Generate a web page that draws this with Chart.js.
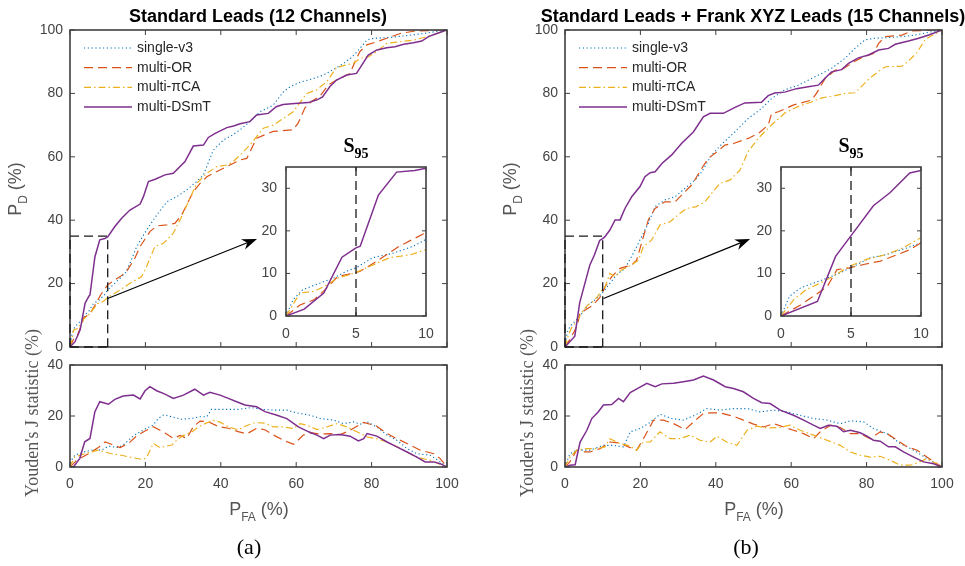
<!DOCTYPE html>
<html>
<head>
<meta charset="utf-8">
<script src="https://cdn.jsdelivr.net/npm/chart.js@4.4.1/dist/chart.umd.min.js"></script>
<style>
  html, body { margin: 0; padding: 0; background: #fff; }
  #fig { position: relative; width: 965px; height: 566px; overflow: hidden; font-family: "Liberation Sans", Arial, sans-serif; }
  #fig canvas { position: absolute; left: 0; top: 0; }
  .lbl { position: absolute; white-space: nowrap; transform: translate(-50%, -50%); }
  .ttl { font-weight: bold; font-size: 18px; color: #000; }
  .ax { font-size: 18px; color: #555; }
  .ax sub { font-size: 12px; vertical-align: -6px; }
  .rot { transform: translate(-50%, -50%) rotate(-90deg); }
  .serif { font-family: "Liberation Serif", "Times New Roman", serif; }
  .yj { font-size: 18px; color: #555; }
  .cap { font-size: 22px; color: #000; }
  .s95 { font-weight: bold; font-size: 20px; color: #000; }
  .s95 sub { font-size: 14px; vertical-align: -6px; }
</style>
</head>
<body>
<div id="fig">
  <canvas id="rocA" width="965" height="566"></canvas>
  <canvas id="insA" width="965" height="566"></canvas>
  <canvas id="jA" width="965" height="566"></canvas>
  <canvas id="rocB" width="965" height="566"></canvas>
  <canvas id="insB" width="965" height="566"></canvas>
  <canvas id="jB" width="965" height="566"></canvas>

  <div class="lbl ttl" style="left:258px;top:16px">Standard Leads (12 Channels)</div>
  <div class="lbl ttl" style="left:753px;top:16px">Standard Leads + Frank XYZ Leads (15 Channels)</div>
  <div class="lbl ax rot" style="left:17px;top:189px">P<sub>D</sub> (%)</div>
  <div class="lbl ax rot" style="left:512px;top:189px">P<sub>D</sub> (%)</div>
  <div class="lbl serif yj rot" style="left:32px;top:413px">Youden's J statistic (%)</div>
  <div class="lbl serif yj rot" style="left:527px;top:413px">Youden's J statistic (%)</div>
  <div class="lbl ax" style="left:259px;top:511px">P<sub>FA</sub> (%)</div>
  <div class="lbl ax" style="left:754px;top:511px">P<sub>FA</sub> (%)</div>
  <div class="lbl serif cap" style="left:249px;top:547px">(a)</div>
  <div class="lbl serif cap" style="left:746px;top:547px">(b)</div>
  <div class="lbl serif s95" style="left:356px;top:148px">S<sub>95</sub></div>
  <div class="lbl serif s95" style="left:851px;top:148px">S<sub>95</sub></div>
</div>

<script>
const W = 965, H = 566;

const seriesNames = ['single-v3', 'multi-OR', 'multi-\u03c0CA', 'multi-DSmT'];
const rocTicks = [0, 20, 40, 60, 80, 100];
const jTicksY = [0, 20, 40];
const insetTicksX = [0, 5, 10];
const insetTicksY = [0, 10, 20, 30];

// (a) ROC, [P_FA, P_D]
const rocA_v3 = [[0,0],[0.5,3.8],[1.2,6.2],[2.4,7.7],[3.4,8.9],[4.3,10.5],[5,11.3],[6.2,13.7],[7.7,14.8],[9.1,16.4],[10,18],[11.9,20.1],[14.6,23.2],[15.9,26.4],[17.7,31.7],[20.3,36.9],[23,41.6],[25.7,45.8],[28.3,47.4],[30.9,49.5],[33.6,52.2],[35.4,54.3],[38,62.1],[40.7,65.3],[43,66.8],[45.1,68.5],[47.7,71.1],[50.4,74.2],[53.9,76.3],[56.6,80.5],[58.4,82.1],[61,83.5],[64.6,84.7],[67.3,85.8],[70.4,87.9],[72.6,89.5],[74.4,91.1],[76.2,93.2],[78.8,96.9],[80.6,97.4],[84.1,97.6],[86.8,97.9],[90.4,98.4],[93.9,98.9],[97.5,99.6],[100,100]];
const rocA_or = [[0,0],[1,2.6],[2,3.8],[2.8,6.2],[3.7,9.3],[4.9,10.1],[5.3,10.5],[6.5,12.9],[8.1,16.4],[10,19.6],[10.6,20.1],[13.3,22.2],[15,23.8],[17.2,28],[18.6,31.7],[21.2,36.4],[23,38.2],[25.7,38.5],[27.8,39],[29.6,41.6],[32.7,49],[34.5,51.6],[36.3,53.7],[38,54.8],[40.7,56.4],[42.4,57.4],[45.1,59],[46.9,59.5],[48.2,62.7],[49.5,65.9],[53.9,68],[59.2,68.5],[60.5,70.6],[62.3,75.4],[64.1,77.5],[66.3,79.1],[68.5,82.7],[70.7,84.2],[74.3,86.3],[75.6,90],[76.9,93.2],[78.7,95.3],[81.4,96.3],[84,97.4],[87.6,98.9],[91.1,99.6],[98.2,100],[100,100]];
const rocA_pca = [[0,0],[1,5.4],[2,5.8],[2.7,6.9],[3.7,8.9],[4.9,10.1],[6,11.7],[7.4,13.7],[8.9,14.4],[10,15.6],[13.3,18],[15.9,20.1],[19,22.2],[20.3,25.3],[22.5,31.7],[24.8,32.7],[27.4,35.9],[29.2,40.1],[31.4,45.8],[33.6,51.6],[36.3,54.8],[38.9,56.9],[41.6,57.4],[43,58.2],[45.1,60.5],[47.7,63.7],[49.5,66.4],[51.3,69],[53.9,70],[56.6,72.1],[59.2,74.2],[62.8,80],[65.4,81.1],[68.1,83.7],[70.7,88.2],[73.4,89],[75.2,89.5],[77,91.1],[79.2,91.6],[81.4,93.2],[84,95.8],[87.6,96.3],[91.1,96.8],[94.7,97.9],[97.3,98.9],[100,100]];
const rocA_dsmt = [[0,0],[1.3,1.6],[2.7,5.4],[4,13.8],[5,16],[5.3,16.4],[6.6,28.4],[7.9,33.8],[9.2,34.2],[10,34.7],[11.9,38],[13.7,40.6],[15.9,43.2],[18.6,45.1],[19.5,47.5],[20.8,52.2],[22.6,52.9],[25.2,54.3],[27.4,54.8],[30.5,58.5],[32.7,63.4],[35.4,63.7],[36.7,66.1],[38.5,67.4],[41.6,69.2],[43.4,69.7],[45.1,70.4],[47.7,71.1],[49.5,73.2],[52.6,73.7],[54.7,75.8],[56.5,76.5],[59.6,76.8],[63.2,77.1],[65.4,77.9],[67,78.9],[68.9,82.1],[70.7,84.2],[73.4,85.8],[76,86.3],[77.4,88.9],[79.1,92.1],[81.4,93.7],[84,94.4],[86.2,94.7],[88.5,95.5],[91.1,96],[93.3,96.5],[95.1,97.9],[97.3,98.9],[100,100]];

// (b) ROC
const rocB_v3 = [[0,0],[0.6,4.6],[1.4,6.6],[2.3,7.7],[3.3,8.9],[4.2,10.1],[5.2,11.7],[6.4,13.7],[7.5,14.4],[9,16],[10,17.2],[11.9,20.1],[14.1,23.2],[15.9,24.8],[18.6,30.6],[20.3,34.8],[22.1,39],[23.9,44.3],[26.5,46.4],[29.2,47.4],[31.8,50],[34.5,52.7],[36.3,55.3],[38.9,60.6],[41.6,64],[45.1,67.9],[48.6,72.1],[52.1,75.2],[54.8,78.4],[58.3,81.1],[61.9,82.6],[65.4,84.7],[68.1,86.3],[70.7,87.9],[74.3,91.1],[76.9,94.2],[79.6,96.9],[82.3,97.4],[85.8,97.6],[89.4,97.9],[92.9,98.4],[96.5,99.3],[100,100]];
const rocB_or = [[0,0],[1.4,2.6],[2.3,4.6],[3.3,6.9],[4,10.9],[4.9,11.3],[5.9,12.1],[7.1,12.9],[8.3,14.4],[9.2,15.6],[10,17.2],[10.6,19],[12.4,22.2],[14.6,24.8],[17.7,25.9],[19,27.4],[20.8,34.8],[22.1,40.1],[23.9,43.7],[26.5,45.8],[29.2,45.8],[31.4,48.5],[33.6,51.1],[36.3,56.4],[38,59.5],[39.8,61.1],[42.4,63.7],[44.7,64.2],[48.6,65.8],[51.3,67.4],[53.9,70],[54.8,73.7],[56.6,74.2],[60.5,76.3],[65.4,77.9],[66.7,80],[68.9,84.5],[71.6,87.3],[73.8,87.8],[76.5,89.9],[79.1,91.5],[81.8,92.6],[83.2,95.8],[84.9,97.9],[89.4,98.4],[92,99.7],[98.2,100],[100,100]];
const rocB_pca = [[0,0],[0.9,3.8],[1.8,6.2],[2.8,7.7],[3.7,9.3],[4.9,11.7],[6.1,13.3],[7.5,14.4],[8.7,16],[10,18.4],[10.6,18.8],[11.9,23.2],[13.3,22.2],[15,24.3],[17.7,25.9],[19.5,27.4],[20.8,31.7],[23,33.8],[25.2,38.5],[27.9,39.5],[30.5,42.2],[32.3,43.7],[34.9,44.3],[37.1,45.8],[38.9,48.5],[41.1,51.6],[43.8,52.7],[46.4,55.8],[48.6,61.7],[51.3,65.9],[54.8,70.1],[58.3,73.8],[61.9,75.9],[65.4,77.3],[68.1,78.6],[71.6,79.3],[74.3,80],[76.9,80.2],[78.3,81.8],[80.5,84.4],[83.2,87],[85,88.4],[89.4,88.6],[91.1,90.2],[93.3,92.8],[95.6,97.1],[100,100]];
const rocB_dsmt = [[0,0],[2.6,3.4],[3.9,14],[4.9,18.4],[6.6,25.9],[7.8,29],[9.2,33.6],[10,34.2],[10.6,34.8],[11.9,36.9],[13.3,40.1],[14.6,40.1],[15.9,43.7],[17.7,47.4],[19.9,50.6],[21.2,53.7],[22.6,55],[23.9,55.3],[25.7,57.9],[28.3,60.6],[30.9,64.2],[34.1,67.9],[36.7,72.6],[38.5,73.7],[42,73.7],[45.1,75.6],[47.7,77],[52.1,77.2],[53.9,79.3],[55.6,80.1],[58.3,80.4],[61.4,81.5],[64.1,82],[67.2,82.6],[68.9,84.7],[70.7,86.8],[73.4,87.5],[75.2,89.5],[77.8,91.2],[80.5,92.1],[83.2,93.7],[85.8,94.2],[87.6,95.5],[91.1,96.5],[93.8,97.4],[96.5,98.4],[100,100]];

// (a) Youden's J, [P_FA, J]
const jA_v3 = [[0,0],[0.4,2.7],[1.3,4.7],[3.9,6],[6.6,6.9],[8.4,6.6],[10.2,8.2],[12.8,7.6],[14.6,9.2],[16.8,12.2],[19.9,14.9],[22.1,16.5],[23.4,19],[24.8,20.4],[27,19.7],[29.6,18.7],[32.3,19.1],[34.5,19.7],[36.3,19.7],[37.5,22.6],[41.1,22.6],[44.6,22.6],[48.2,23.3],[50.8,22.6],[54,22.3],[57.5,22.3],[60.2,21.2],[63.7,20.3],[66.4,19],[69.9,18.4],[72.6,17],[75.2,17.7],[77,16.8],[78.8,17.7],[81.4,15.7],[84.1,12.5],[86.7,10.5],[89.4,7.2],[92,5.2],[95.6,4.6],[98.2,2],[100,0]];
const jA_or = [[0,0],[1.8,2.7],[4.9,5.2],[7.5,7.6],[9.3,9.8],[11,8.9],[13.3,7.6],[15.5,9.2],[17.7,12.2],[19.9,14.1],[22.1,15.8],[25.2,13.3],[27.4,11.2],[29.2,12.4],[31,11.2],[32.7,15.8],[34.5,18],[36.8,17.7],[39.4,15.8],[42,15.2],[44.6,13.9],[46.9,13],[49.5,15.2],[51.7,14.6],[54,12.5],[56.6,10.5],[59.3,8.9],[61.9,12.5],[64.2,13.4],[66.4,12.9],[69,13.1],[71.7,12.7],[74.3,14.4],[77.9,17.5],[81.4,16],[84.1,13.1],[86.7,11.1],[89.4,9.2],[92.9,6.6],[96.5,5.2],[98.2,3.3],[100,0]];
const jA_pca = [[0,0],[0.4,1.4],[1.3,4],[3.9,5.2],[7.5,6.6],[11,5.2],[13.7,4.6],[16.4,3.7],[19.4,2.9],[20.4,4],[22.1,9.2],[23.9,7.6],[25.6,8.2],[27,8.6],[28.3,10.5],[30.1,12.4],[32.3,13.7],[34.1,15.7],[35.8,17],[38,18.3],[39.8,17.6],[42,15.7],[44.6,14.6],[46.9,16.3],[49.1,17.4],[51.7,17.2],[54,15.7],[56.6,15.7],[59.3,15.1],[61,17],[62.8,16.4],[65.5,14.7],[68.1,15.7],[70.8,17],[73.5,15.7],[76.1,13.8],[78.8,11.8],[81.4,11.1],[84.1,9.8],[86.7,7.9],[89.4,5.9],[92,3.9],[95.6,2.6],[100,0]];
const jA_dsmt = [[0,0],[0.9,0],[2.6,3.4],[3.9,9.9],[5.3,11.2],[6.6,21.7],[7.9,25.6],[10.2,24.6],[11.9,26.5],[14.1,27.8],[16.8,28.2],[18.6,26.7],[19.9,29.9],[21.2,31.5],[23,29.9],[25.2,28.6],[27.4,26.9],[30.1,28.2],[33.1,30.5],[35.4,28.2],[37.1,29.3],[39.8,28.2],[42,26.9],[44.2,25.6],[46.4,24.3],[49.5,23.6],[51.7,21.7],[54.9,20.3],[57.5,19],[60.6,15.7],[63.3,13.8],[65.5,12.5],[67.3,11.1],[69,12.5],[71.7,12.7],[74.3,12.1],[76.5,10.2],[77.9,11.1],[78.8,13.1],[81.4,12.1],[84.1,9.8],[86.7,7.9],[89.4,5.9],[92,3.9],[94.2,2],[96.5,2],[98.2,1.3],[100,0]];

// (b) Youden's J
const jB_v3 = [[0,0],[1.3,5.2],[3.1,6.6],[6.6,6.6],[10.2,8.5],[12.8,8.5],[15.5,7.9],[17.3,13.8],[19.9,15.1],[22.1,17],[25.2,20.7],[28.3,19],[31.4,18.4],[34.5,20.3],[37.6,22.9],[41.2,22.3],[44.7,22.9],[48.3,22.9],[51.8,21.6],[55.3,22.3],[58.8,21.6],[62.4,20.3],[65.9,19],[69.5,18.4],[73,17],[75.7,18.1],[79.2,17.7],[81.8,15.1],[85.4,13.1],[88.9,9.2],[92.5,6.6],[96,3.3],[100,0]];
const jB_or = [[0,0],[1.3,2],[3.1,6.6],[4.9,5.9],[6.6,5.9],[9.3,7.2],[11.9,9.8],[14.6,9.4],[16.8,7.9],[19,6.6],[20.8,11.1],[23.5,18.4],[26.1,18.4],[28.8,17],[31.9,14.7],[34.1,17.7],[36.7,21],[38.5,21.2],[41.2,21.2],[44.7,19.9],[47.3,18.4],[50,16.8],[52.7,15.7],[55.3,17],[58,15.7],[60.6,14.4],[63.3,13.1],[65.9,11.1],[67.7,13.8],[70.4,16.4],[73,15.5],[75.7,13.1],[78.3,13.1],[81,11.1],[83.6,13.8],[85.4,13.1],[88.1,10.5],[90.7,7.9],[93.4,6.6],[96,3.9],[100,0]];
const jB_pca = [[0,0],[1.3,3.9],[3.1,6.6],[5.8,7.2],[8.4,7.2],[10.6,7.9],[11.9,11.1],[14.6,9.2],[16.8,8.5],[19,6.6],[20.8,9.8],[22.6,9.8],[25.2,13.8],[27.9,11.1],[30.5,11.1],[33.2,12.5],[35.8,10.5],[38.5,9.8],[40.3,12.1],[42.9,9.8],[45.6,8.5],[48.3,14.4],[50.9,16],[53.5,15.3],[57.1,15.5],[59.7,16.4],[62.4,14.4],[65.9,12.5],[69.5,10.5],[73,8.5],[75.7,5.9],[78.3,4.6],[81,3.9],[83.6,4.2],[86.3,2.6],[88.9,0.7],[91.6,0.7],[93.4,1.6],[96,3.3],[100,0]];
const jB_dsmt = [[0,0],[1.3,0.7],[2.7,0.9],[4,9.8],[5.8,14.4],[7.1,19],[8.8,21.6],[10.2,24.3],[12.4,24.5],[14.2,26.9],[15.5,25.6],[17.3,29.2],[19.9,31.3],[21.7,32.8],[23.9,31.5],[25.7,32.6],[28.8,32.8],[31.4,33.4],[34.1,34.1],[36.7,35.7],[39.4,34.1],[42.5,31.5],[44.7,30.8],[47.3,29.5],[50,26.9],[52.2,25.2],[54.4,24.9],[57.1,22.3],[60.6,20.3],[63.3,18.4],[65.9,16.4],[67.7,15.1],[69.9,16.4],[72.1,16],[73.9,13.8],[75.7,14.4],[78.3,13.4],[80.1,12.1],[81.8,10.5],[83.6,10.1],[85.8,7.9],[87.6,7.9],[89.8,5.9],[92.5,3.9],[95.1,2],[97.8,1.3],[100,0]];

// zoom window shown in the insets, and the arrows pointing to them (data units of the ROC axes)
const zoomBox = [0, 10, 0, 35];
const arrowA = [[10, 15.3], [49.6, 34.1]];
const arrowB = [[10.2, 15.3], [49.1, 34.1]];
const s95 = 5;

// ---- layout / style ----
const AREA = {
  rocA: { l: 70, t: 30, r: 447, b: 347 },
  insA: { l: 286, t: 167, r: 426, b: 316 },
  jA:   { l: 70, t: 365, r: 447, b: 467 },
  rocB: { l: 565, t: 30, r: 942, b: 347 },
  insB: { l: 781, t: 167, r: 921, b: 316 },
  jB:   { l: 565, t: 365, r: 942, b: 467 }
};
const YAXIS_W = 50, XAXIS_H = 30;
const STYLE = [
  { color: '#0072BD', width: 1.1, dash: [1.2, 2.6] },
  { color: '#D95319', width: 1.2, dash: [9, 5] },
  { color: '#EDB120', width: 1.2, dash: [7, 3, 1.5, 3] },
  { color: '#7E2F8E', width: 1.5, dash: [] }
];
const AXIS_COLOR = '#404040';
const TICK_COLOR = '#444';
const tickFont = { family: 'Liberation Sans', size: 14 };

function lineSets(list) {
  return list.map((pts, i) => ({
    label: seriesNames[i],
    data: pts.map(p => ({ x: p[0], y: p[1] })),
    borderColor: STYLE[i].color,
    borderWidth: STYLE[i].width,
    borderDash: STYLE[i].dash,
    borderCapStyle: 'butt',
    pointRadius: 0,
    fill: false,
    tension: 0,
    order: 3 - i
  }));
}

function framePlugin(len) {
  return {
    id: 'frame',
    beforeDatasetsDraw(chart) {
      const a = chart.chartArea, ctx = chart.ctx;
      ctx.save();
      ctx.fillStyle = '#fff';
      ctx.fillRect(a.left, a.top, a.right - a.left, a.bottom - a.top);
      ctx.restore();
    },
    afterDraw(chart) {
      const a = chart.chartArea, ctx = chart.ctx;
      const xs = chart.scales.x, ys = chart.scales.y;
      ctx.save();
      ctx.strokeStyle = AXIS_COLOR;
      ctx.lineWidth = 1;
      ctx.beginPath();
      xs.ticks.forEach(t => {
        const px = xs.getPixelForValue(t.value);
        ctx.moveTo(px, a.bottom); ctx.lineTo(px, a.bottom - len);
        ctx.moveTo(px, a.top); ctx.lineTo(px, a.top + len);
      });
      ys.ticks.forEach(t => {
        const py = ys.getPixelForValue(t.value);
        ctx.moveTo(a.left, py); ctx.lineTo(a.left + len, py);
        ctx.moveTo(a.right, py); ctx.lineTo(a.right - len, py);
      });
      ctx.stroke();
      ctx.lineWidth = 1.6;
      ctx.strokeRect(a.left, a.top, a.right - a.left, a.bottom - a.top);
      ctx.restore();
    }
  };
}

function drawLegend(chart) {
  const a = chart.chartArea, ctx = chart.ctx;
  ctx.save();
  ctx.font = '14px "Liberation Sans"';
  ctx.textBaseline = 'middle';
  ctx.fillStyle = '#262626';
  seriesNames.forEach((name, i) => {
    const y = a.top + 18 + i * 19.7;
    ctx.strokeStyle = STYLE[i].color;
    ctx.lineWidth = STYLE[i].width;
    ctx.setLineDash(STYLE[i].dash);
    ctx.beginPath();
    ctx.moveTo(a.left + 14, y);
    ctx.lineTo(a.left + 62, y);
    ctx.stroke();
    ctx.fillText(name, a.left + 67, y);
  });
  ctx.restore();
}

function drawZoomGuide(chart, arrow) {
  const xs = chart.scales.x, ys = chart.scales.y, ctx = chart.ctx;
  const x0 = xs.getPixelForValue(zoomBox[0]), x1 = xs.getPixelForValue(zoomBox[1]);
  const y0 = ys.getPixelForValue(zoomBox[2]), y1 = ys.getPixelForValue(zoomBox[3]);
  ctx.save();
  ctx.strokeStyle = '#1a1a1a';
  ctx.lineWidth = 1.3;
  ctx.setLineDash([9, 5]);
  ctx.beginPath();
  ctx.moveTo(x0, y1); ctx.lineTo(x1, y1); ctx.lineTo(x1, y0);
  ctx.moveTo(x0, y0); ctx.lineTo(x0, y1);
  ctx.moveTo(x0, y0); ctx.lineTo(x1, y0);
  ctx.stroke();
  // arrow
  const ax0 = xs.getPixelForValue(arrow[0][0]), ay0 = ys.getPixelForValue(arrow[0][1]);
  const ax1 = xs.getPixelForValue(arrow[1][0]), ay1 = ys.getPixelForValue(arrow[1][1]);
  const ang = Math.atan2(ay1 - ay0, ax1 - ax0);
  const hl = 15, hw = 5.5;
  ctx.setLineDash([]);
  ctx.strokeStyle = '#000';
  ctx.lineWidth = 1.2;
  ctx.beginPath();
  ctx.moveTo(ax0, ay0);
  ctx.lineTo(ax1 - hl * 0.7 * Math.cos(ang), ay1 - hl * 0.7 * Math.sin(ang));
  ctx.stroke();
  ctx.fillStyle = '#000';
  ctx.beginPath();
  ctx.moveTo(ax1, ay1);
  ctx.lineTo(ax1 - hl * Math.cos(ang) + hw * Math.sin(ang), ay1 - hl * Math.sin(ang) - hw * Math.cos(ang));
  ctx.lineTo(ax1 - hl * 0.7 * Math.cos(ang), ay1 - hl * 0.7 * Math.sin(ang));
  ctx.lineTo(ax1 - hl * Math.cos(ang) - hw * Math.sin(ang), ay1 - hl * Math.sin(ang) + hw * Math.cos(ang));
  ctx.closePath();
  ctx.fill();
  ctx.restore();
}

function drawS95(chart) {
  const a = chart.chartArea, xs = chart.scales.x, ctx = chart.ctx;
  const px = xs.getPixelForValue(s95);
  ctx.save();
  ctx.strokeStyle = '#1a1a1a';
  ctx.lineWidth = 1.3;
  ctx.setLineDash([9, 5]);
  ctx.beginPath();
  ctx.moveTo(px, a.top); ctx.lineTo(px, a.bottom);
  ctx.stroke();
  ctx.restore();
}

function makePlot(id, sets, xr, yr, xTicks, yTicks, opt) {
  const area = AREA[id];
  return new Chart(document.getElementById(id), {
    type: 'line',
    data: { datasets: lineSets(sets) },
    options: {
      responsive: false,
      animation: false,
      events: [],
      layout: { padding: { left: area.l - YAXIS_W, top: area.t, right: W - area.r, bottom: H - area.b - XAXIS_H } },
      plugins: { legend: { display: false }, tooltip: { enabled: false } },
      scales: {
        x: {
          type: 'linear', min: xr[0], max: xr[1],
          afterBuildTicks: s => { s.ticks = xTicks.map(v => ({ value: v })); },
          afterFit: s => { s.height = XAXIS_H; },
          grid: { display: false, drawTicks: false },
          border: { display: false },
          ticks: { display: opt.xLabels, padding: opt.xPad, font: tickFont, color: TICK_COLOR, autoSkip: false, maxRotation: 0 }
        },
        y: {
          type: 'linear', min: yr[0], max: yr[1],
          afterBuildTicks: s => { s.ticks = yTicks.map(v => ({ value: v })); },
          afterFit: s => { s.width = YAXIS_W; },
          grid: { display: false, drawTicks: false },
          border: { display: false },
          ticks: { padding: opt.yPad, font: tickFont, color: TICK_COLOR, autoSkip: false }
        }
      }
    },
    plugins: [framePlugin(opt.tickLen), { id: 'deco', afterDraw: c => { if (opt.deco) opt.deco(c); } }]
  });
}

makePlot('rocA', [rocA_v3, rocA_or, rocA_pca, rocA_dsmt], [0, 100], [0, 100], rocTicks, rocTicks,
  { xLabels: false, xPad: 9, yPad: 7, tickLen: 5, deco: c => { drawZoomGuide(c, arrowA); drawLegend(c); } });
makePlot('insA', [rocA_v3, rocA_or, rocA_pca, rocA_dsmt], [0, 10], [0, 35], insetTicksX, insetTicksY,
  { xLabels: true, xPad: 10, yPad: 9, tickLen: 4, deco: drawS95 });
makePlot('jA', [jA_v3, jA_or, jA_pca, jA_dsmt], [0, 100], [0, 40], rocTicks, jTicksY,
  { xLabels: true, xPad: 9, yPad: 7, tickLen: 5 });

makePlot('rocB', [rocB_v3, rocB_or, rocB_pca, rocB_dsmt], [0, 100], [0, 100], rocTicks, rocTicks,
  { xLabels: false, xPad: 9, yPad: 7, tickLen: 5, deco: c => { drawZoomGuide(c, arrowB); drawLegend(c); } });
makePlot('insB', [rocB_v3, rocB_or, rocB_pca, rocB_dsmt], [0, 10], [0, 35], insetTicksX, insetTicksY,
  { xLabels: true, xPad: 10, yPad: 9, tickLen: 4, deco: drawS95 });
makePlot('jB', [jB_v3, jB_or, jB_pca, jB_dsmt], [0, 100], [0, 40], rocTicks, jTicksY,
  { xLabels: true, xPad: 9, yPad: 7, tickLen: 5 });
</script>
</body>
</html>
